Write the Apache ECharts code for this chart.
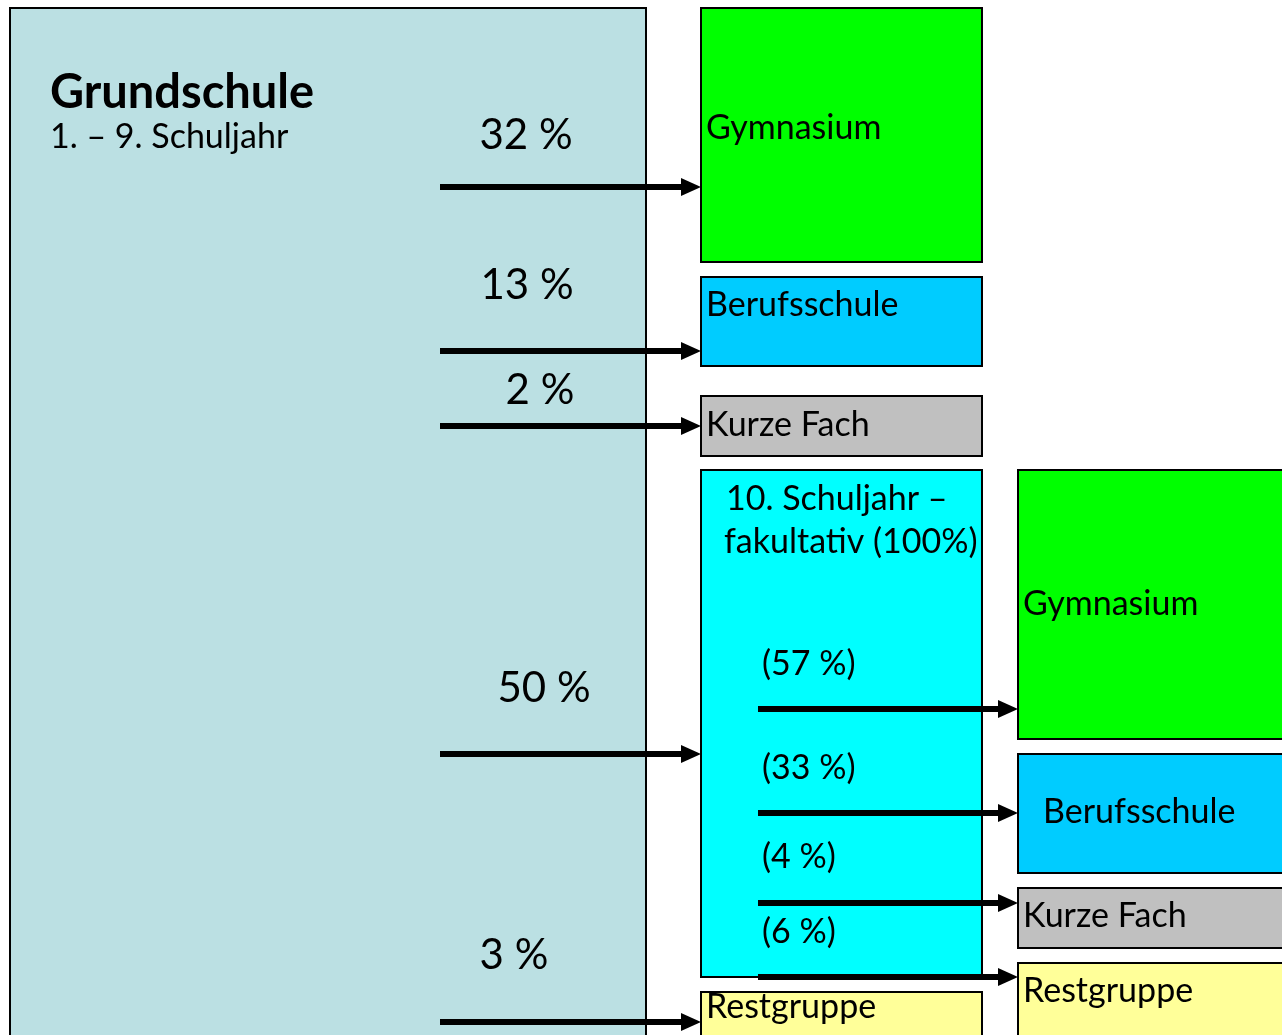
<!DOCTYPE html>
<html>
<head>
<meta charset="utf-8">
<title>Grundschule – Übergänge</title>
<script src="https://cdn.jsdelivr.net/npm/echarts@6/dist/echarts.min.js"></script>
<style>
  html, body { margin: 0; padding: 0; background: #fff; }
  #chart { width: 1282px; height: 1035px; }
</style>
</head>
<body>
<div id="chart"></div>
<script>
// --- data ---
const sourceTitle = 'Grundschule';
const sourceSubtitle = '1. – 9. Schuljahr';
const stage1Targets = ['Gymnasium', 'Berufsschule', 'Kurze Fach', '10. Schuljahr –', 'Restgruppe'];
const stage1Shares = [32, 13, 2, 50, 3];
const optionalYearNote = 'fakultativ (100%)';
const stage2Targets = ['Gymnasium', 'Berufsschule', 'Kurze Fach', 'Restgruppe'];
const stage2Shares = [57, 33, 4, 6];

// --- layout (pixel space of the hidden axes) ---
const FONT = 'Lato, "Open Sans", sans-serif';
const sourceRect = [10, 8, 646, 1045];
const stage1Rects = [[701, 8, 982, 262], [701, 277, 982, 366], [701, 396, 982, 456], [701, 470, 982, 977], [701, 992, 982, 1045]];
const stage2Rects = [[1018, 470, 1290, 739], [1018, 754, 1290, 873], [1018, 888, 1290, 948], [1018, 963, 1290, 1045]];
const stage1Fills = ['#00ff00', '#00ccff', '#c0c0c0', '#00ffff', '#ffff99'];
const stage2Fills = ['#00ff00', '#00ccff', '#c0c0c0', '#ffff99'];
const stage1NamePos = [[706, 128], [706, 305], [706, 425], [726, 499], [706, 1007]];
const stage2NamePos = [[1023, 604], [1043, 812], [1023, 916], [1023, 991]];
const stage1Arrows = [[440, 701, 187], [440, 701, 351], [440, 701, 426], [440, 701, 754], [440, 701, 1022]];
const stage2Arrows = [[758, 1018, 709], [758, 1018, 813], [758, 1018, 903], [758, 1018, 977]];
const stage1SharePos = [[526, 135], [527, 285], [540, 390], [544, 688], [514, 955]];
const stage2SharePos = [[762, 664], [762, 768], [762, 857], [762, 932]];
const NAME_SIZE = 34;

const boxes = [
  { rect: sourceRect, fill: '#bbe0e3', texts: [
    { text: sourceTitle, x: 50, y: 93, size: 47, weight: 'bold' },
    { text: sourceSubtitle, x: 50, y: 137, size: 34, weight: 'normal' }
  ] }
];
stage1Targets.forEach((name, i) => {
  const texts = [{ text: name, x: stage1NamePos[i][0], y: stage1NamePos[i][1], size: NAME_SIZE, weight: 'normal' }];
  if (i === 3) texts.push({ text: optionalYearNote, x: 724, y: 542, size: NAME_SIZE, weight: 'normal' });
  boxes.push({ rect: stage1Rects[i], fill: stage1Fills[i], texts });
});
stage2Targets.forEach((name, i) => {
  boxes.push({ rect: stage2Rects[i], fill: stage2Fills[i], texts: [
    { text: name, x: stage2NamePos[i][0], y: stage2NamePos[i][1], size: NAME_SIZE, weight: 'normal' }
  ] });
});

const arrows = [];
stage1Shares.forEach((v, i) => arrows.push({ a: stage1Arrows[i], label: v + ' %', pos: stage1SharePos[i], size: 42, align: 'center' }));
stage2Shares.forEach((v, i) => arrows.push({ a: stage2Arrows[i], label: '(' + v + ' %)', pos: stage2SharePos[i], size: NAME_SIZE, align: 'left' }));

function textEl(api, t, align) {
  const p = api.coord([t.x, t.y]);
  return {
    type: 'text',
    style: {
      text: t.text, x: p[0], y: p[1],
      font: t.weight + ' ' + t.size + 'px ' + FONT,
      fill: '#000', align: align || 'left', verticalAlign: 'middle'
    }
  };
}

function renderBox(params, api) {
  const b = boxes[params.dataIndex];
  const p0 = api.coord([api.value(0), api.value(1)]);
  const p1 = api.coord([api.value(2), api.value(3)]);
  return {
    type: 'group',
    children: [{
      type: 'rect',
      shape: { x: p0[0], y: p0[1], width: p1[0] - p0[0], height: p1[1] - p0[1] },
      style: { fill: b.fill, stroke: '#000', lineWidth: 2 }
    }].concat(b.texts.map(t => textEl(api, t)))
  };
}

function renderArrow(params, api) {
  const a = arrows[params.dataIndex];
  const s = api.coord([api.value(0), api.value(2)]);
  const e = api.coord([api.value(1), api.value(2)]);
  const head = 20, half = 9;
  return {
    type: 'group',
    children: [
      { type: 'line', shape: { x1: s[0], y1: s[1], x2: e[0] - head + 2, y2: e[1] }, style: { stroke: '#000', lineWidth: 6 } },
      { type: 'polygon', shape: { points: [[e[0], e[1]], [e[0] - head, e[1] - half], [e[0] - head, e[1] + half]] }, style: { fill: '#000' } },
      textEl(api, { text: a.label, x: a.pos[0], y: a.pos[1], size: a.size, weight: 'normal' }, a.align)
    ]
  };
}

const chart = echarts.init(document.getElementById('chart'));
chart.setOption({
  animation: false,
  grid: { left: 0, right: 0, top: 0, bottom: 0 },
  xAxis: { type: 'value', min: 0, max: 1282, show: false },
  yAxis: { type: 'value', min: 0, max: 1035, inverse: true, show: false },
  series: [
    { type: 'custom', renderItem: renderBox, data: boxes.map(b => b.rect), silent: true },
    { type: 'custom', renderItem: renderArrow, data: arrows.map(a => a.a), silent: true, z: 3 }
  ]
});
</script>
</body>
</html>
